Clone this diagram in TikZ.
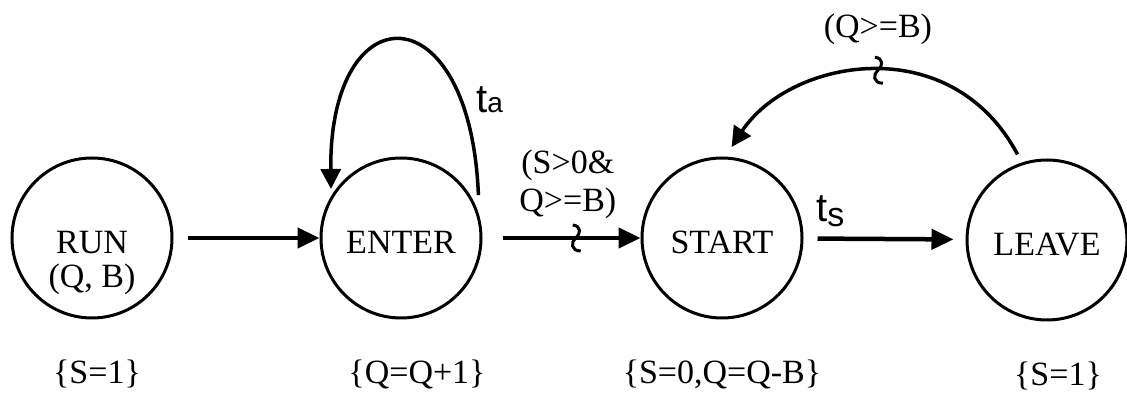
\documentclass[tikz,border=0pt]{standalone}
\usepackage{fontspec}
\setmainfont{Liberation Serif}
\newfontfamily\arialfont{Liberation Sans}
\usetikzlibrary{arrows.meta,positioning}

\begin{document}
\begin{tikzpicture}[x=1pt,y=1pt]
\tikzstyle{state}=[draw,circle,line width=3pt,minimum size=160pt,inner sep=0pt,text height=31pt,text depth=0pt,font=\fontsize{34}{38}\selectfont]
\tikzstyle{txt}=[inner sep=2pt,align=center,font=\fontsize{34}{38}\selectfont]
\tikzstyle{tlbl}=[inner sep=0pt,font=\arialfont\fontsize{40}{40}\selectfont]
\tikzstyle{link}=[line width=4.5pt,-{Triangle[length=22pt,width=20pt]}]
\tikzstyle{arcline}=[line width=3.5pt,-{Triangle[length=20pt,width=20pt]}]
\tikzstyle{squig}=[line width=3pt]
\useasboundingbox (0,0) rectangle (1127,396);
\node[state] (run) at (92,158) {RUN};
\node[txt] (runarg) at (92,117) {(Q, B)};
\node[state] (enter) at (401,158) {ENTER};
\node[state] (start) at (722,158) {START};
\node[state] (leave) at (1047,156) {LEAVE};
\node[txt,below=38pt of run,xshift=5pt] (runset) {\{S=1\}};
\node[txt,below=38pt of enter,xshift=16pt] (enterset) {\{Q=Q+1\}};
\node[txt,below=38pt of start] (startset) {\{S=0,Q=Q-B\}};
\node[txt,below=38pt of leave,xshift=11pt] (leaveset) {\{S=1\}};
\node[tlbl,anchor=base west] (ta) at (476,283) {t{\fontsize{28}{28}\selectfont a}};
\node[tlbl,anchor=base west] (ts) at (816,174) {t\raisebox{-5pt}{\fontsize{34}{34}\selectfont s}};

\draw[link,shorten <=14pt] (run) -- (enter);
\draw[link,shorten <=20pt] (enter) -- coordinate[pos=0.59] (g1) node[txt,pos=0.54,above=15pt] (cond1) {(S>0\&\\Q>=B)} (start);
\draw[link,shorten <=14pt,shorten >=12pt] (start) -- (leave);
\draw[arcline] ([shift={(29:7)}]enter.29) .. controls +(-8,205) and +(-2,198) .. ([shift={(145:4)}]enter.145);
\draw[arcline] ([shift={(109:9)}]leave.109) .. controls +(-67,126) and +(58,88) .. coordinate[pos=0.48] (g2) node[txt,pos=0.48,above=22pt] (cond2) {(Q>=B)} ([shift={(84:10)}]start.84);
\draw[squig,shift={(g1)}] (-3,13) .. controls (6,12) and (5,4) .. (0,0) .. controls (-5,-4) and (-5,-13) .. (5,-13);
\draw[squig,shift={(g2)}] (-3,13) .. controls (6,12) and (5,4) .. (0,0) .. controls (-5,-4) and (-5,-13) .. (5,-13);
\end{tikzpicture}
\end{document}
